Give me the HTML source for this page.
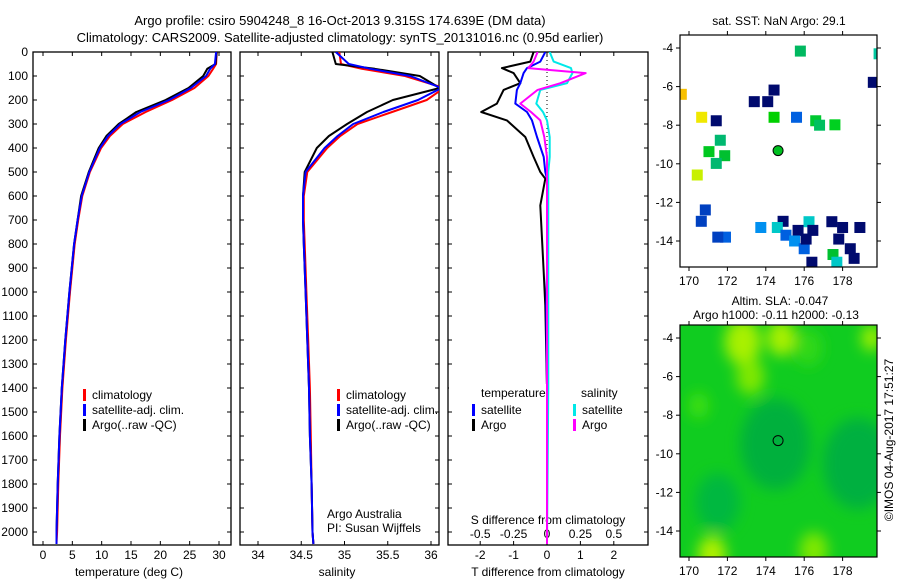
<!DOCTYPE html>
<html><head><meta charset="utf-8">
<style>
html,body{margin:0;padding:0;background:#fff;}
svg{display:block;font-family:"Liberation Sans",sans-serif;}
text{fill:#000;}
</style></head>
<body>
<svg id="fig" width="900" height="580" viewBox="0 0 900 580">
<defs>
<clipPath id="cp1"><rect x="33" y="52" width="198" height="493"/></clipPath>
<clipPath id="cp2"><rect x="240" y="52" width="199" height="493"/></clipPath>
<clipPath id="cp3"><rect x="448" y="52" width="200" height="493"/></clipPath>
<clipPath id="cpm1"><rect x="680" y="35" width="197" height="232"/></clipPath>
<clipPath id="cpm2"><rect x="680" y="325" width="197" height="232"/></clipPath>
<filter id="blur" x="-50%" y="-50%" width="200%" height="200%"><feGaussianBlur stdDeviation="7"/></filter>
</defs>
<text x="340" y="25" font-size="13" text-anchor="middle">Argo profile: csiro 5904248_8 16-Oct-2013 9.315S 174.639E (DM data)</text>
<text x="340" y="42" font-size="13" text-anchor="middle">Climatology: CARS2009. Satellite-adjusted climatology: synTS_20131016.nc (0.95d earlier)</text>
<g id="g1"></g>
<g id="g2"></g>
<g id="g3"></g>
<g id="m1"></g>
<g id="m2"></g>
<text transform="translate(893,440) rotate(-90)" font-size="12" text-anchor="middle">©IMOS 04-Aug-2017 17:51:27</text>
</svg>
<script>
// ---- data ----
const depths = [0, 50, 70, 100, 150, 200, 250, 300, 350, 400, 500, 600, 700, 800, 1000, 1200, 1400, 1600, 1800, 2000, 2050];
const tempClim = [29.6, 29.5, 29.0, 28.2, 25.8, 22.0, 17.5, 13.6, 11.4, 9.9, 8.0, 6.7, 6.0, 5.4, 4.6, 3.9, 3.3, 2.9, 2.6, 2.4, 2.3];
const tempSat = [29.5, 29.3, 28.5, 27.8, 25.2, 21.5, 16.6, 13.2, 11.1, 9.7, 7.9, 6.6, 5.9, 5.3, 4.5, 3.8, 3.2, 2.8, 2.5, 2.3, 2.3];
const tempArgo = [29.6, 29.4, 28.0, 27.3, 24.8, 20.9, 15.9, 12.9, 10.8, 9.5, 7.8, 6.5, 5.9, 5.3, 4.5, 3.8, 3.2, 2.8, 2.5, 2.3, 2.3];
const salClim = [34.94, 34.96, 35.2, 35.7, 36.15, 35.95, 35.55, 35.15, 34.95, 34.80, 34.57, 34.53, 34.53, 34.54, 34.56, 34.58, 34.60, 34.61, 34.62, 34.63, 34.64];
const salSat = [34.90, 35.05, 35.3, 35.76, 36.12, 35.85, 35.45, 35.10, 34.92, 34.77, 34.55, 34.52, 34.52, 34.53, 34.55, 34.57, 34.59, 34.60, 34.62, 34.63, 34.64];
const salArgo = [34.86, 34.90, 35.35, 35.87, 36.10, 35.56, 35.26, 35.03, 34.82, 34.68, 34.54, 34.52, 34.52, 34.53, 34.55, 34.57, 34.59, 34.60, 34.62, 34.63, 34.64];
const diffDepths = [0, 40, 67, 88, 130, 158, 215, 250, 285, 354, 437, 500, 528, 639, 917, 1056, 1400, 2050];
const tDiffArgo = [-0.4, -0.5, -1.35, -1.0, -0.8, -1.3, -1.5, -1.97, -1.2, -0.65, -0.4, -0.2, -0.05, -0.2, -0.1, -0.05, 0.0, 0.0];
const tDiffSat = [-0.05, -0.2, -0.6, -0.7, -0.8, -0.9, -0.95, -0.6, -0.45, -0.3, -0.1, -0.05, 0.0, 0.0, 0.0, -0.02, 0.0, 0.0];
const sDiffSat = [0.02, 0.05, 0.18, 0.19, 0.15, -0.05, -0.08, -0.03, 0.0, 0.02, 0.02, 0.01, 0.01, 0.01, 0.01, 0.01, 0.01, 0.0];
const sDiffArgo = [-0.07, -0.1, -0.14, 0.29, 0.1, -0.07, -0.2, -0.12, -0.05, -0.02, 0.0, 0.0, 0.0, 0.0, 0.0, 0.0, 0.0, 0.0];
const depthTicks = [0,100,200,300,400,500,600,700,800,900,1000,1100,1200,1300,1400,1500,1600,1700,1800,1900,2000];
const tempTicks = [0,5,10,15,20,25,30];
const salTicks = [34,34.5,35,35.5,36];
const tDiffTicks = [-2,-1,0,1,2];
const sDiffTicks = [-0.5,-0.25,0,0.25,0.5];
const sDiffTickLabels = ["-0.5","-0.25","0","0.25","0.5"];
const lonTicks = [170,172,174,176,178];
const latTicks = [-4,-6,-8,-10,-12,-14];
const sstLon = [175.8,179.6,174.43,173.4,174.1,170.66,171.42,174.43,175.6,176.6,176.8,177.6,171.63,171.04,171.86,171.42,170.43,169.6,179.9,170.85,170.64,174.9,173.74,174.6,176.25,175.68,176.45,177.44,178.0,178.9,177.8,178.4,178.6,177.5,177.7,175.05,175.5,176.0,176.4,176.1,171.9,171.5];
const sstLat = [-4.16,-5.78,-6.18,-6.78,-6.78,-7.59,-7.77,-7.59,-7.59,-7.77,-8.0,-7.98,-8.78,-9.37,-9.58,-9.98,-10.58,-6.4,-4.3,-12.39,-12.98,-12.98,-13.3,-13.3,-13.0,-13.45,-13.45,-13.0,-13.3,-13.3,-13.9,-14.4,-14.9,-14.7,-15.1,-13.7,-14.0,-14.4,-15.1,-13.9,-13.8,-13.8];
const sstColor = ["#00b860","#000a6e","#000a6e","#000a6e","#000a6e","#f0e800","#000a6e","#00d000","#0060e0","#00c830","#00c060","#00d020","#00b870","#00c820","#00c030","#00b870","#c8f000","#f8c000","#00c8a0","#0040c0","#0040c0","#000a6e","#0090f0","#00c8c8","#00c8c8","#000a6e","#000a6e","#000a6e","#000a6e","#000a6e","#000a6e","#000a6e","#000a6e","#00c030","#00c8c8","#0060e0","#0090f0","#0060e0","#000a6e","#000a6e","#0060e0","#0040c0"];
const argoLon = 174.639, argoLat = -9.315;
const slaLon = [172.8, 173.2, 174.8, 179.5, 171.2, 176.5, 170.5, 176.2, 178.8, 174.5, 171.5];
const slaLat = [-4.2, -6.0, -4.0, -4.0, -15.2, -15.0, -7.5, -4.5, -10.5, -9.5, -12.5];
const slaColor = ["#a8f000","#80e800","#a8f000","#a0f000","#b0f000","#80e800","#40e010","#30d818","#00b040","#00b03c","#00b840"];
const slaR = [18, 14, 14, 10, 14, 14, 10, 14, 35, 35, 22];

const NS="http://www.w3.org/2000/svg";
function el(parent,tag,attrs,txt){const e=document.createElementNS(NS,tag);for(const k in attrs)e.setAttribute(k,attrs[k]);if(txt!==undefined)e.textContent=txt;parent.appendChild(e);return e;}
const Y = d => 52 + d*0.24;
const xT = t => 43 + t*5.8667;
const xS = s => 258 + (s-34)*86.5;
const xTD = t => 547 + t*33.4;
const xSD = s => 547 + s*133.6;

function frame(g,x0,x1,y0,y1){
  const r=el(g,'rect',{x:x0,y:y0,width:x1-x0,height:y1-y0,fill:'none',stroke:'#000','stroke-width':1.3});
  
  
}
function line(g,xs,ds,xf,color,clip,name,w){
  const pts=ds.map((d,i)=>xf(xs[i]).toFixed(1)+','+Y(d).toFixed(1)).join(' ');
  const p=el(g,'polyline',{points:pts,fill:'none',stroke:color,'stroke-width':w||2,'clip-path':'url(#'+clip+')','stroke-linejoin':'round'});
  
  
}
function xTicks(g,ticks,labels,xf,y0,y1,ly,fs){
  ticks.forEach((t,i)=>{const x=xf(t);
    el(g,'line',{x1:x,x2:x,y1:y1,y2:y1-4,stroke:'#000'});
    el(g,'line',{x1:x,x2:x,y1:y0,y2:y0+4,stroke:'#000'});
    const tx=el(g,'text',{x:x,y:ly,'font-size':fs||12,'text-anchor':'middle'},labels[i]);
    
    
  });
}
function yTicks(g,x0,x1){depthTicks.forEach(d=>{el(g,'line',{x1:x0,x2:x0+4,y1:Y(d),y2:Y(d),stroke:'#000'});el(g,'line',{x1:x1,x2:x1-4,y1:Y(d),y2:Y(d),stroke:'#000'});});}
function legend(g,x,y,items){items.forEach((it,i)=>{
  el(g,'rect',{x:x,y:y+i*15-10,width:3,height:12,fill:it[1]});
  const t=el(g,'text',{x:x+9,y:y+i*15,'font-size':12},it[0]);
  
  
});}

// Panel 1
const g1=document.getElementById('g1');
frame(g1,33,231,52,545); yTicks(g1,33,231);
depthTicks.forEach(d=>{const t=el(g1,'text',{x:28,y:Y(d)+4,'font-size':12,'text-anchor':'end'},String(d));
  
  });
xTicks(g1,tempTicks,tempTicks.map(String),xT,52,545,559);
const xl1=el(g1,'text',{x:129,y:576,'font-size':12,'text-anchor':'middle'},'temperature (deg C)');


line(g1,tempClim,depths,xT,'#ff0000','cp1','temp-climatology-line');
line(g1,tempArgo,depths,xT,'#000000','cp1','temp-argo-line');
line(g1,tempSat,depths,xT,'#0000ff','cp1','temp-satellite-line');
legend(g1,83,399,[['climatology','#f00'],['satellite-adj. clim.','#00f'],['Argo(..raw -QC)','#000']]);

// Panel 2
const g2=document.getElementById('g2');
frame(g2,240,439,52,545); yTicks(g2,240,439);
xTicks(g2,salTicks,['34','34.5','35','35.5','36'],xS,52,545,559);
const xl2=el(g2,'text',{x:337,y:576,'font-size':12,'text-anchor':'middle'},'salinity');


line(g2,salClim,depths,xS,'#ff0000','cp2','sal-climatology-line');
line(g2,salArgo,depths,xS,'#000000','cp2','sal-argo-line');
line(g2,salSat,depths,xS,'#0000ff','cp2','sal-satellite-line');
legend(g2,337,399,[['climatology','#f00'],['satellite-adj. clim.','#00f'],['Argo(..raw -QC)','#000']]);
el(g2,'text',{x:327,y:518,'font-size':12},'Argo Australia');
el(g2,'text',{x:327,y:532,'font-size':12},'PI: Susan Wijffels');

// Panel 3
const g3=document.getElementById('g3');
frame(g3,448,648,52,545); yTicks(g3,448,648);
el(g3,'line',{x1:547,x2:547,y1:52,y2:545,stroke:'#000','stroke-dasharray':'1,3'});
xTicks(g3,tDiffTicks,tDiffTicks.map(String),xTD,52,545,559);
sDiffTicks.forEach((s,i)=>{const t=el(g3,'text',{x:xSD(s),y:538,'font-size':12,'text-anchor':'middle'},sDiffTickLabels[i]);
  
  });
el(g3,'text',{x:548,y:524,'font-size':12,'text-anchor':'middle'},'S difference from climatology');
el(g3,'text',{x:548,y:576,'font-size':12,'text-anchor':'middle'},'T difference from climatology');
line(g3,tDiffArgo,diffDepths,xTD,'#000','cp3','tdiff-argo-line');
line(g3,tDiffSat,diffDepths,xTD,'#0000ff','cp3','tdiff-satellite-line');
line(g3,sDiffSat,diffDepths,xSD,'#00e8e8','cp3','sdiff-satellite-line');
line(g3,sDiffArgo,diffDepths,xSD,'#ff00ff','cp3','sdiff-argo-line');
el(g3,'rect',{x:449,y:384,width:97,height:14,fill:'#fff'});
el(g3,'text',{x:481,y:397,'font-size':12},'temperature');
el(g3,'text',{x:581,y:397,'font-size':12},'salinity');
legend(g3,472,414,[['satellite','#00f'],['Argo','#000']]);
legend(g3,573,414,[['satellite','#00e8e8'],['Argo','#f0f']]);

// Maps
const mx = lon => 689 + (lon-170)*19.2;
function mapAxes(g,y0,latY){
  el(g,'rect',{x:680,y:y0,width:197,height:232,fill:'none',stroke:'#000','stroke-width':1.2});
  lonTicks.forEach(l=>{const x=mx(l);el(g,'line',{x1:x,x2:x,y1:y0,y2:y0-4,stroke:'#000'});el(g,'line',{x1:x,x2:x,y1:y0+232,y2:y0+236,stroke:'#000'});
    const t=el(g,'text',{x:x,y:y0+250,'font-size':12,'text-anchor':'middle'},String(l));
    
    });
  latTicks.forEach(l=>{const y=latY(l);el(g,'line',{x1:680,x2:676,y1:y,y2:y,stroke:'#000'});el(g,'line',{x1:877,x2:881,y1:y,y2:y,stroke:'#000'});
    const t=el(g,'text',{x:673,y:y+4,'font-size':12,'text-anchor':'end'},String(l));
    
    });
}
const m1=document.getElementById('m1');
const my1 = lat => 48 + (-4-lat)*19.3;
el(m1,'text',{x:779,y:25,'font-size':12,'text-anchor':'middle'},'sat. SST: NaN Argo: 29.1');
const sg=el(m1,'g',{'clip-path':'url(#cpm1)'});
sstLon.forEach((lo,i)=>{
  const r=el(sg,'rect',{x:mx(lo)-5.5,y:my1(sstLat[i])-5.5,width:11,height:11,fill:sstColor[i]});
  
  
});
const d1=el(m1,'circle',{cx:mx(argoLon),cy:my1(argoLat),r:5,fill:'#00c020',stroke:'#000','stroke-width':1});


mapAxes(m1,35,my1);

const m2=document.getElementById('m2');
const my2 = lat => 338 + (-4-lat)*19.3;
el(m2,'text',{x:780,y:305,'font-size':12,'text-anchor':'middle'},'Altim. SLA: -0.047');
el(m2,'text',{x:776,y:319,'font-size':12,'text-anchor':'middle'},'Argo h1000: -0.11 h2000: -0.13');
const ag=el(m2,'g',{'clip-path':'url(#cpm2)'});
el(ag,'rect',{x:680,y:325,width:197,height:232,fill:'#10cc20'});
const bg=el(ag,'g',{filter:'url(#blur)'});
slaLon.forEach((lo,i)=>{
  const c=el(bg,'ellipse',{cx:mx(lo),cy:my2(slaLat[i]),rx:slaR[i],ry:slaR[i]*1.3,fill:slaColor[i]});
  
  
});
const d2=el(m2,'circle',{cx:mx(argoLon),cy:my2(argoLat),r:5,fill:'none',stroke:'#000','stroke-width':1});


mapAxes(m2,325,my2);
</script>
</body></html>
